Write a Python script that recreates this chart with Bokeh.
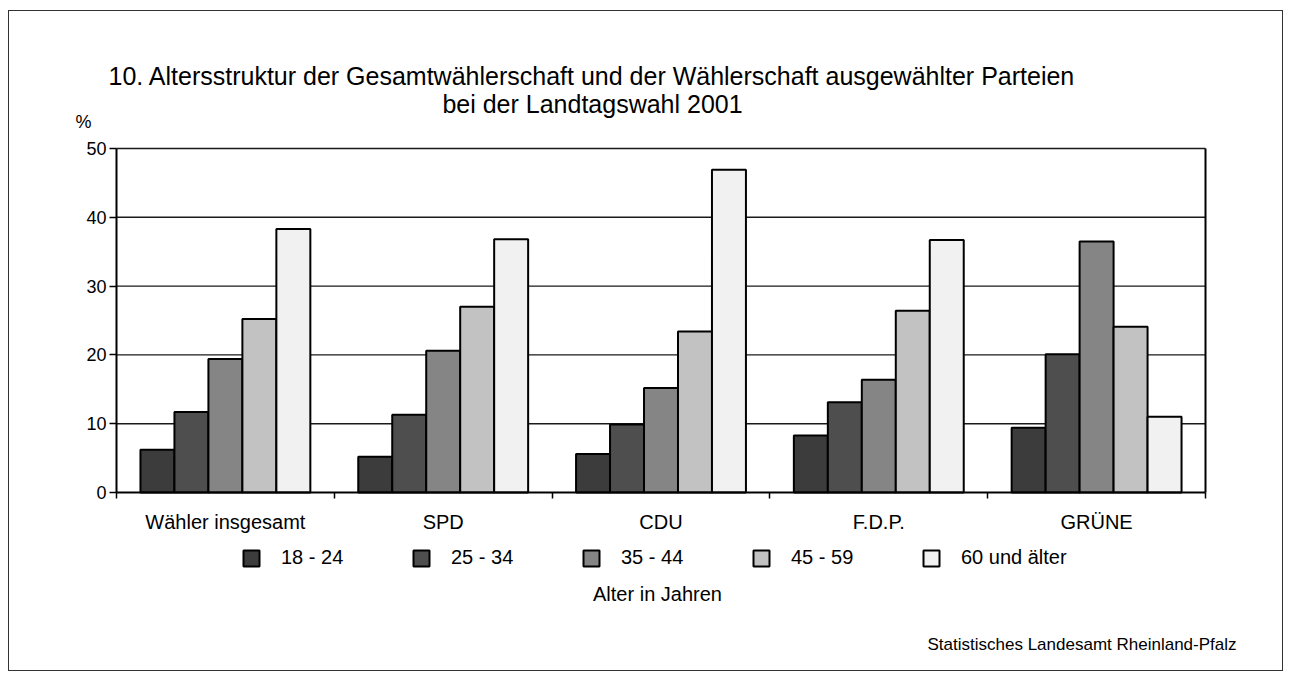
from bokeh.plotting import figure
from bokeh.models import (ColumnDataSource, Range1d, FixedTicker, Legend, LegendItem,
                          Label, LinearAxis)
from bokeh.embed import file_html
from bokeh.resources import INLINE

parties = ["Wähler insgesamt", "SPD", "CDU", "F.D.P.", "GRÜNE"]
age_groups = ["18 - 24", "25 - 34", "35 - 44", "45 - 59", "60 und älter"]
v_18_24 = [6.2, 5.2, 5.6, 8.3, 9.4]
v_25_34 = [11.7, 11.3, 9.9, 13.1, 20.1]
v_35_44 = [19.4, 20.6, 15.2, 16.4, 36.5]
v_45_59 = [25.2, 27.0, 23.4, 26.4, 24.1]
v_60 = [38.3, 36.8, 46.9, 36.7, 11.0]
y_ticks = [0, 10, 20, 30, 40, 50]

series = [v_18_24, v_25_34, v_35_44, v_45_59, v_60]
fills = ["#3c3c3c", "#4e4e4e", "#858585", "#c2c2c2", "#f1f1f1"]

FONT = "Liberation Sans"

# canvas geometry (pixels): the plotting area spans the whole canvas,
# axes are pinned at data positions so texts outside the bar area stay visible
W, H = 1275, 661
PX_X = 217.8           # pixels per category
PX_Y = 344 / 50.0      # pixels per percent
LEFT_PAD, TOP_PAD = 107, 137
ncat = len(parties)
ymax = y_ticks[-1]
x0 = -LEFT_PAD / PX_X
x1 = x0 + W / PX_X
y1 = ymax + TOP_PAD / PX_Y
y0 = y1 - H / PX_Y

p = figure(width=W, height=H, output_backend="svg", toolbar_location=None,
           x_range=Range1d(x0, x1), y_range=Range1d(y0, y1),
           min_border_left=0, min_border_right=0, min_border_top=0,
           min_border_bottom=0, title=None)
p.styles = {"border": "1px solid #333333", "margin-left": "8px", "margin-top": "10px"}
p.background_fill_color = "white"
p.border_fill_color = "white"
p.outline_line_color = None
p.xgrid.grid_line_color = None
p.ygrid.grid_line_color = None

# horizontal grid lines over the category span
p.segment(x0=[0] * (len(y_ticks) - 1), x1=[ncat] * (len(y_ticks) - 1),
          y0=y_ticks[1:], y1=y_ticks[1:], line_color="#1a1a1a", line_width=1.4)

bw = 0.156
n = len(age_groups)
renderers = []
for k, vals in enumerate(series):
    off = (k - (n - 1) / 2) * bw
    src = ColumnDataSource(dict(x=[i + 0.5 + off for i in range(ncat)], top=vals))
    r = p.vbar(x="x", top="top", width=bw, source=src, fill_color=fills[k],
               line_color="black", line_width=2)
    renderers.append(r)

# x axis pinned at 0
xa = p.xaxis[0]
xa.fixed_location = 0
xa.bounds = (0, ncat)
xa.ticker = FixedTicker(ticks=[i + 0.5 for i in range(ncat)],
                        minor_ticks=list(range(ncat + 1)))
xa.major_label_overrides = {i + 0.5: name for i, name in enumerate(parties)}
xa.major_tick_out = 0
xa.major_tick_in = 0
xa.minor_tick_out = 6
xa.minor_tick_in = 0
xa.minor_tick_line_color = "black"
xa.minor_tick_line_width = 1.5
xa.axis_line_color = "black"
xa.axis_line_width = 2
xa.major_label_text_font = FONT
xa.major_label_text_font_size = "20px"
xa.major_label_text_color = "black"
xa.major_label_standoff = 12

# y axis pinned at 0
ya = p.yaxis[0]
ya.fixed_location = 0
ya.bounds = (0, ymax)
ya.ticker = FixedTicker(ticks=y_ticks, minor_ticks=[])
ya.major_tick_out = 7
ya.major_tick_in = 0
ya.major_tick_line_color = "black"
ya.major_tick_line_width = 1.5
ya.axis_line_color = "black"
ya.axis_line_width = 2
ya.major_label_text_font = FONT
ya.major_label_text_font_size = "18px"
ya.major_label_text_color = "black"
ya.major_label_standoff = 3

# right border of the plotting area
ra = LinearAxis(fixed_location=ncat, bounds=(0, ymax), ticker=FixedTicker(ticks=[]),
                major_label_text_font_size="0px", axis_line_color="black",
                axis_line_width=2, major_tick_line_color=None, minor_tick_line_color=None)
p.add_layout(ra, "right")

# legend
legend = Legend(items=[LegendItem(label=a, renderers=[r]) for a, r in zip(age_groups, renderers)],
                orientation="horizontal", location=(232, 103), margin=0, padding=0,
                glyph_width=20, glyph_height=20, label_standoff=20, spacing=0,
                label_width=130, label_height=20,
                label_text_font=FONT, label_text_font_size="20px", label_text_color="black",
                border_line_alpha=0, background_fill_alpha=0)
p.add_layout(legend, "center")

def lab(px, py, text, size, align="left"):
    # px, py: page pixel position converted to data coordinates
    p.add_layout(Label(x=(px - 116) / PX_X, y=(492 - py) / PX_Y, text=text,
                       text_font=FONT, text_font_size=size, text_align=align,
                       text_baseline="middle", text_color="black"))

lab(108, 75, "10. Altersstruktur der Gesamtwählerschaft und der Wählerschaft ausgewählter Parteien", "25px")
lab(592, 103, "bei der Landtagswahl 2001", "25px", "center")
lab(75, 121, "%", "18px")
lab(657, 593, "Alter in Jahren", "20px", "center")
lab(1236, 644, "Statistisches Landesamt Rheinland-Pfalz", "17px", "right")

open("out.html", "w").write(file_html(p, INLINE))
